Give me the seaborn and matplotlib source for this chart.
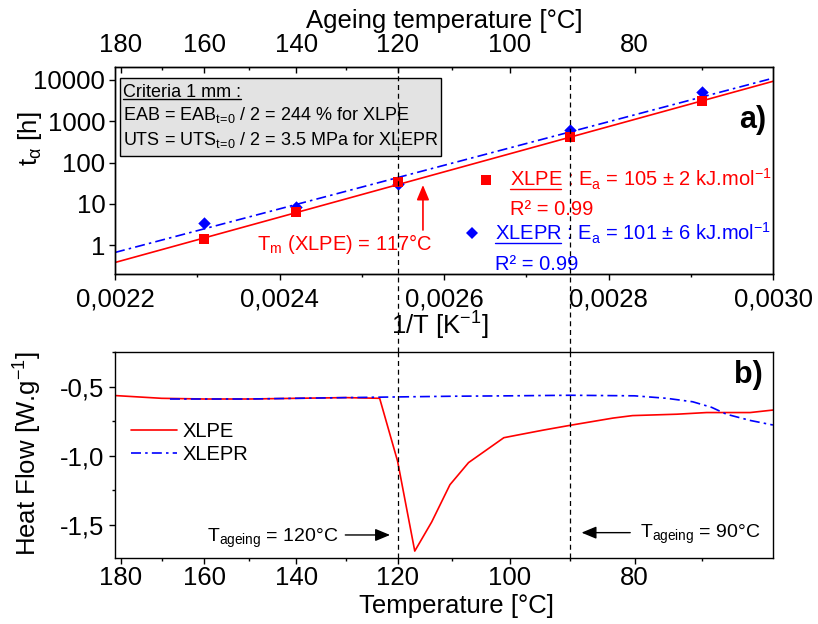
import numpy as np
import pandas as pd
import matplotlib
matplotlib.use("Agg")
import matplotlib.pyplot as plt
from matplotlib.patches import Rectangle
from matplotlib.ticker import FixedLocator, FixedFormatter, LogLocator, NullFormatter
import seaborn as sns

# ==========================================
# data
# ==========================================
ageing_temp = [160, 140, 120, 90, 70]            # °C
t_xlpe = [1.37, 6.3, 33.7, 408, 3150]            # h
t_xlepr = [3.5, 8.5, 31, 610, 5200]              # h

# Arrhenius fits : Ea (kJ/mol) and t at 1/T = 0.0022
ea_xlpe, ea_xlepr = 105, 101
t0_xlpe, t0_xlepr = 0.38, 0.665

# DSC curves
dsc_temp_xlpe = [181.4, 170, 160, 150, 140, 130, 123.4, 120, 116.8, 113.7, 110.4, 107.1,
                 101.0, 98.6, 94.4, 90, 83.3, 80.3, 73.7, 69.4, 63.3, 60.2]
dsc_hf_xlpe = [-0.565, -0.585, -0.59, -0.59, -0.585, -0.58, -0.585, -1.04, -1.69, -1.48, -1.21, -1.05,
               -0.87, -0.85, -0.815, -0.78, -0.728, -0.71, -0.70, -0.688, -0.688, -0.670]
dsc_temp_xlepr = [168, 160, 150, 140, 130, 120, 110, 100, 90, 80, 75.2, 71.4, 68.7, 66.6, 63.3, 60.2]
dsc_hf_xlepr = [-0.59, -0.59, -0.59, -0.585, -0.58, -0.575, -0.57, -0.567, -0.563, -0.567, -0.585,
                -0.61, -0.65, -0.70, -0.745, -0.778]

ageing_lines = [120, 90]

inv_ticks = [0.0022, 0.0024, 0.0026, 0.0028, 0.0030]
inv_minor = [0.0023, 0.0025, 0.0027, 0.0029]
temp_ticks = [180, 160, 140, 120, 100, 80]
temp_minor = [170, 150, 130, 110, 90, 70]
t_ticks = [1, 10, 100, 1000, 10000]
hf_ticks = [-0.5, -1.0, -1.5]

R = 8.314


def inv(temp_c):
    return 1.0 / (np.asarray(temp_c, dtype=float) + 273.15)


# ==========================================
# style
# ==========================================
sns.set_style("ticks", {"axes.edgecolor": "black", "xtick.color": "black", "ytick.color": "black",
                        "text.color": "black", "axes.labelcolor": "black"})
plt.rcParams["font.family"] = ["Liberation Sans", "DejaVu Sans"]
plt.rcParams["mathtext.fontset"] = "custom"
plt.rcParams["mathtext.rm"] = "Liberation Sans"
plt.rcParams["mathtext.it"] = "Liberation Sans:italic"
plt.rcParams["mathtext.bf"] = "Liberation Sans:bold"
plt.rcParams["mathtext.default"] = "regular"
plt.rcParams["axes.linewidth"] = 1.0

RED, BLUE = "#ff0000", "#0000ff"
TICK_FS, LAB_FS, LEG_FS = 18.5, 18.5, 14.5
XLIM = (0.0022, 0.0030)

fig = plt.figure(figsize=(8.18, 6.24), dpi=100)
pos1 = [0.1406, 0.5609, 0.8044, 0.3317]
pos2 = [0.1406, 0.1058, 0.8044, 0.3301]
ax1 = fig.add_axes(pos1)
ax2 = fig.add_axes(pos2)


def add_underline(ax, x, y, word, color, size):
    r = fig.canvas.get_renderer()
    tmp = ax.text(x, y, word, transform=ax.transAxes, fontsize=size, va="baseline")
    bb = tmp.get_window_extent(r)
    tmp.remove()
    base = ax.transAxes.transform((x, y))[1] - 0.12 * size * fig.dpi / 72
    inv_t = ax.transAxes.inverted()
    (ax0, ay), (ax_1, _) = inv_t.transform([(bb.x0, base), (bb.x1, base)])
    ax.plot([ax0, ax_1], [ay, ay], transform=ax.transAxes, color=color, lw=1.0, clip_on=False)


# ==========================================
# a) Arrhenius plot
# ==========================================
ax1.set_yscale("log")
x_fit = np.array(XLIM)
for ea, t0, col, ls in [(ea_xlpe, t0_xlpe, RED, "-"), (ea_xlepr, t0_xlepr, BLUE, (0, (6, 2.5, 1.5, 2.5)))]:
    log_t = np.log10(t0) + ea * 1000 / (R * np.log(10)) * (x_fit - XLIM[0])
    sns.lineplot(x=x_fit, y=10 ** log_t, color=col, lw=1.2, linestyle=ls, ax=ax1, zorder=2)

pts = pd.DataFrame({"inv": np.concatenate([inv(ageing_temp), inv(ageing_temp)]),
                    "t": t_xlpe + t_xlepr,
                    "mat": ["XLPE"] * 5 + ["XLEPR"] * 5})
sns.scatterplot(data=pts[pts.mat == "XLEPR"], x="inv", y="t", marker="D", color=BLUE, s=40,
                linewidth=0, ax=ax1, zorder=3, legend=False)
sns.scatterplot(data=pts[pts.mat == "XLPE"], x="inv", y="t", marker="s", color=RED, s=52,
                linewidth=0, ax=ax1, zorder=4, legend=False)

ax1.set_xlim(*XLIM)
ax1.set_ylim(0.2, 20600)
ax1.xaxis.set_major_locator(FixedLocator(inv_ticks))
ax1.xaxis.set_major_formatter(FixedFormatter([f"{v:.4f}".replace(".", ",") for v in inv_ticks]))
ax1.xaxis.set_minor_locator(FixedLocator(inv_minor))
ax1.yaxis.set_major_locator(FixedLocator(t_ticks))
ax1.yaxis.set_major_formatter(FixedFormatter([str(v) for v in t_ticks]))
ax1.yaxis.set_minor_locator(LogLocator(base=10, subs=np.arange(2, 10)))
ax1.yaxis.set_minor_formatter(NullFormatter())
ax1.tick_params(axis="x", which="major", direction="out", length=4, width=1, labelsize=TICK_FS, pad=5.5)
ax1.tick_params(axis="x", which="minor", direction="out", length=2.5, width=1)
ax1.tick_params(axis="y", which="major", direction="out", length=4, width=1, labelsize=TICK_FS, pad=3)
ax1.tick_params(axis="y", which="minor", direction="out", length=2, width=0.8)
ax1.set_xlabel("1/T [K$^{-1}$]", fontsize=LAB_FS)
ax1.xaxis.set_label_coords(0.494, -0.175)
ax1.set_ylabel("t$_{α}$ [h]", fontsize=LAB_FS)
ax1.yaxis.set_label_coords(-0.108, 0.652)

# top axis : ageing temperature
ax1t = ax1.twiny()
ax1t.set_xlim(*XLIM)
ax1t.xaxis.set_major_locator(FixedLocator(inv(temp_ticks)))
ax1t.xaxis.set_major_formatter(FixedFormatter([str(v) for v in temp_ticks]))
ax1t.xaxis.set_minor_locator(FixedLocator(inv(temp_minor)))
ax1t.tick_params(axis="x", which="major", direction="in", length=4, width=1, labelsize=TICK_FS, pad=7)
ax1t.tick_params(axis="x", which="minor", direction="in", length=2.5, width=1)
ax1t.set_xlabel("Ageing temperature [°C]", fontsize=LAB_FS, labelpad=4)

# criteria box
ax1.add_patch(Rectangle((0.0076, 0.571), 0.4874, 0.374, transform=ax1.transAxes,
                        facecolor="#e3e3e3", edgecolor="black", lw=1.0, zorder=1))
BOX_FS = 13
ax1.text(0.0126, 0.8565, "Criteria 1 mm :", transform=ax1.transAxes, fontsize=BOX_FS, va="baseline")
add_underline(ax1, 0.0126, 0.8565, "Criteria 1 mm :", "black", BOX_FS)
ax1.text(0.0126, 0.744, r"EAB = EAB$_{t\!=\!0}$ / 2 = 244 % for XLPE", transform=ax1.transAxes,
         fontsize=BOX_FS, va="baseline")
ax1.text(0.0126, 0.623, r"UTS = UTS$_{t\!=\!0}$ / 2 = 3.5 MPa for XLEPR", transform=ax1.transAxes,
         fontsize=BOX_FS, va="baseline")

ax1.text(0.990, 0.704, "a)", transform=ax1.transAxes, fontsize=22, fontweight="bold",
         ha="right", va="baseline")

# legend of the fits
ax1.plot([0.564], [0.454], marker="s", ms=7.2, color=RED, mew=0, transform=ax1.transAxes)
ax1.text(0.6003, 0.423, f"XLPE : E$_a$ = {ea_xlpe} ± 2 kJ.mol$^{{-1}}$", transform=ax1.transAxes,
         fontsize=LEG_FS, color=RED, va="baseline")
add_underline(ax1, 0.6003, 0.423, "XLPE", RED, LEG_FS)
ax1.text(0.6003, 0.285, "R² = 0.99", transform=ax1.transAxes, fontsize=LEG_FS, color=RED, va="baseline")
ax1.plot([0.542], [0.197], marker="D", ms=6.4, color=BLUE, mew=0, transform=ax1.transAxes)
ax1.text(0.5775, 0.161, f"XLEPR : E$_a$ = {ea_xlepr} ± 6 kJ.mol$^{{-1}}$", transform=ax1.transAxes,
         fontsize=LEG_FS, color=BLUE, va="baseline")
add_underline(ax1, 0.5775, 0.161, "XLEPR", BLUE, LEG_FS)
ax1.text(0.5775, 0.019, "R² = 0.99", transform=ax1.transAxes, fontsize=LEG_FS, color=BLUE, va="baseline")

ax1.text(0.2153, 0.116, "T$_m$ (XLPE) = 117°C", transform=ax1.transAxes, fontsize=LEG_FS,
         color=RED, va="baseline")
ax1.annotate("", xy=(0.468, 0.43), xytext=(0.468, 0.2126), xycoords="axes fraction",
             arrowprops=dict(arrowstyle="-|>,head_length=0.6,head_width=0.25", color=RED, lw=1.2,
                             mutation_scale=15, shrinkA=0, shrinkB=0))

# ==========================================
# b) DSC
# ==========================================
sns.lineplot(x=inv(dsc_temp_xlpe), y=dsc_hf_xlpe, color=RED, lw=1.2, sort=False, estimator=None,
             label="XLPE", ax=ax2)
sns.lineplot(x=inv(dsc_temp_xlepr), y=dsc_hf_xlepr, color=BLUE, lw=1.2, sort=False, estimator=None,
             linestyle=(0, (6, 2.5, 1.5, 2.5)), label="XLEPR", ax=ax2)
ax2.set_xlim(*XLIM)
ax2.set_ylim(-1.74, -0.25)
ax2.xaxis.set_major_locator(FixedLocator(inv(temp_ticks)))
ax2.xaxis.set_major_formatter(FixedFormatter([str(v) for v in temp_ticks]))
ax2.xaxis.set_minor_locator(FixedLocator(inv(temp_minor)))
ax2.yaxis.set_major_locator(FixedLocator(hf_ticks))
ax2.yaxis.set_major_formatter(FixedFormatter([f"{v:.1f}".replace(".", ",") for v in hf_ticks]))
ax2.yaxis.set_minor_locator(FixedLocator([-0.25, -0.75, -1.25]))
ax2.tick_params(axis="x", which="major", direction="out", length=4.5, width=1, labelsize=TICK_FS, pad=1.5)
ax2.tick_params(axis="x", which="minor", direction="out", length=2.5, width=1)
ax2.tick_params(axis="y", which="major", direction="out", length=4, width=1, labelsize=TICK_FS, pad=4)
ax2.tick_params(axis="y", which="minor", direction="out", length=2.5, width=1)
ax2.set_xlabel("Temperature [°C]", fontsize=LAB_FS)
ax2.xaxis.set_label_coords(0.519, -0.175)
ax2.set_ylabel("Heat Flow [W.g$^{-1}$]", fontsize=LAB_FS)
ax2.yaxis.set_label_coords(-0.108, 0.505)
ax2.legend(loc="upper left", bbox_to_anchor=(0.025, 0.66), frameon=False, fontsize=LEG_FS,
           handlelength=2.24, handletextpad=0.3, borderpad=0, borderaxespad=0, labelspacing=0.2)
ax2.text(0.985, 0.848, "b)", transform=ax2.transAxes, fontsize=22, fontweight="bold",
         ha="right", va="baseline")

arrow_kw = dict(arrowstyle="-|>,head_length=0.6,head_width=0.25", color="black", lw=1.0,
                mutation_scale=15, shrinkA=0, shrinkB=0)
ax2.text(0.339, 0.0777, f"T$_{{ageing}}$ = {ageing_lines[0]}°C", transform=ax2.transAxes,
         fontsize=14, ha="right", va="baseline")
ax2.annotate("", xy=(0.418, 0.1117), xytext=(0.350, 0.1117), xycoords="axes fraction", arrowprops=arrow_kw)
ax2.text(0.798, 0.0956, f"T$_{{ageing}}$ = {ageing_lines[1]}°C", transform=ax2.transAxes,
         fontsize=14, ha="left", va="baseline")
ax2.annotate("", xy=(0.709, 0.123), xytext=(0.783, 0.123), xycoords="axes fraction", arrowprops=arrow_kw)

# dashed ageing lines through both panels
gap = (pos1[1] - (pos2[1] + pos2[3])) / pos1[3]
for T in ageing_lines:
    ax1.axvline(inv(T), ymin=-gap, ymax=1, color="black", lw=0.9, ls=(0, (4, 3)), clip_on=False, zorder=5)
    ax2.axvline(inv(T), color="black", lw=0.9, ls=(0, (4, 3)), zorder=5)

fig.savefig("out.png", dpi=100)
